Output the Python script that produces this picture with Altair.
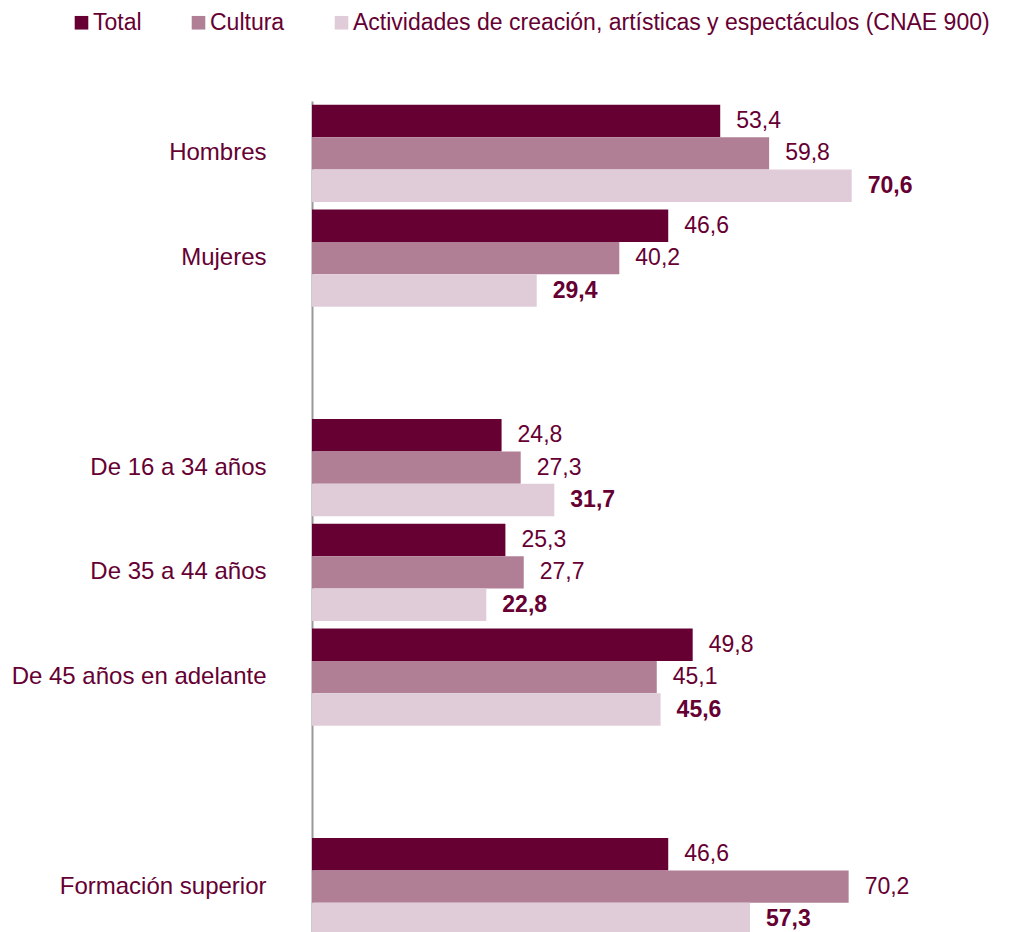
import altair as alt
import pandas as pd

categories = ["Hombres", "Mujeres", "gap1", "De 16 a 34 años", "De 35 a 44 años",
              "De 45 años en adelante", "gap2", "Formación superior"]
series = ["Total", "Cultura", "Actividades de creación, artísticas y espectáculos (CNAE 900)"]
groups = ["Hombres", "Mujeres", "De 16 a 34 años", "De 35 a 44 años",
          "De 45 años en adelante", "Formación superior"]
total = [53.4, 46.6, 24.8, 25.3, 49.8, 46.6]
cultura = [59.8, 40.2, 27.3, 27.7, 45.1, 70.2]
actividades = [70.6, 29.4, 31.7, 22.8, 45.6, 57.3]
colors = ["#660033", "#B07F96", "#E0CCD8"]

rows = []
for i, g in enumerate(groups):
    for s, vals in zip(series, [total, cultura, actividades]):
        rows.append({"cat": g, "serie": s, "v": vals[i], "order": series.index(s)})
df = pd.DataFrame(rows)

FONT = "Liberation Sans"
TXT = "#660033"
FS = 24

y = alt.Y("cat:N", scale=alt.Scale(domain=categories, paddingInner=0.07, paddingOuter=0.035),
          axis=alt.Axis(title=None, ticks=False, labelPadding=46, labelFontSize=FS,
                        labelColor=TXT, labelFont=FONT, domainColor="#999999", domainWidth=2,
                        labelLimit=500,
                        labelExpr="indexof(datum.label, 'gap') == 0 ? '' : datum.label"))
yoff = alt.YOffset("serie:N", scale=alt.Scale(domain=series, paddingInner=0, paddingOuter=0))
x = alt.X("v:Q", scale=alt.Scale(domain=[0, 90]), axis=None)

base = alt.Chart(df)

bars = base.mark_bar().encode(
    y=y, yOffset=yoff, x=x,
    color=alt.Color("serie:N", scale=alt.Scale(domain=series, range=colors),
                    legend=alt.Legend(title=None, orient="none", direction="horizontal",
                                      legendX=-242, legendY=-90, symbolType="square",
                                      symbolSize=185, symbolStrokeWidth=0, labelFontSize=23,
                                      labelFont=FONT, labelColor=TXT, columnPadding=45,
                                      labelOffset=0, padding=0, labelLimit=900)),
)

labels = base.transform_calculate(
    lbl="replace(format(datum.v, '.1f'), '.', ',')"
)

t_norm = labels.transform_filter("datum.order < 2").mark_text(
    align="left", baseline="middle", dx=16, fontSize=23, font=FONT, color=TXT
).encode(y=y, yOffset=yoff, x=x, text="lbl:N")

t_bold = labels.transform_filter("datum.order == 2").mark_text(
    align="left", baseline="middle", dx=16, fontSize=23, font=FONT, color=TXT, fontWeight="bold"
).encode(y=y, yOffset=yoff, x=x, text="lbl:N")

chart = alt.layer(bars, t_norm, t_bold).properties(
    width=688, height=838,
    autosize=alt.AutoSizeParams(type="none"),
    padding={"left": 304, "top": 93, "right": 8, "bottom": 0},
).configure_view(stroke=None)

chart.save("out.html", embed_options={"renderer": "svg", "actions": False})
